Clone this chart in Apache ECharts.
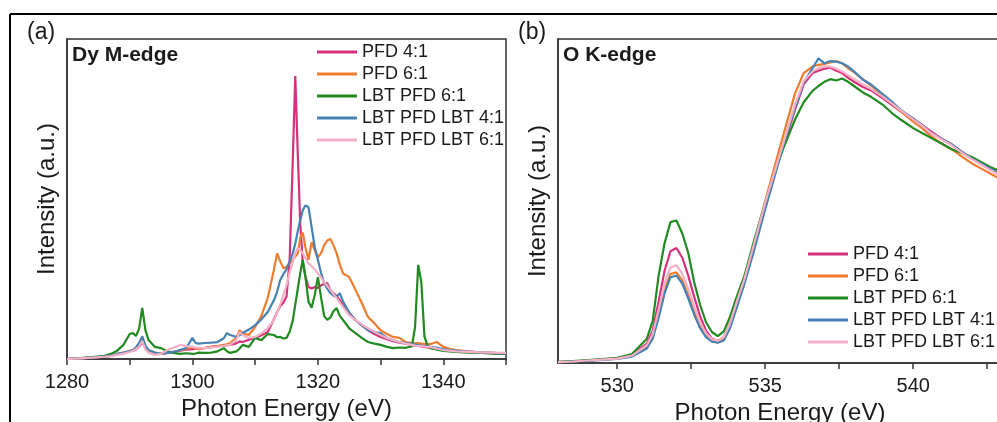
<!DOCTYPE html>
<html>
<head>
<meta charset="utf-8">
<script src="https://cdn.jsdelivr.net/npm/echarts@6/dist/echarts.min.js"></script>
<style>
  html, body { margin: 0; padding: 0; overflow: hidden; background: #ffffff; }
  #chart { width: 1010px; height: 430px; }
</style>
</head>
<body>
<div id="chart"></div>
<script>
// Sample names and line colours (shared by both panels)
const seriesNames = ['PFD 4:1', 'PFD 6:1', 'LBT PFD 6:1', 'LBT PFD LBT 4:1', 'LBT PFD LBT 6:1'];
const seriesColors = ['#d6317a', '#f07c2e', '#218a21', '#4682b4', '#f6b0c6'];

// ---- (a) Dy M-edge ----
const energyA = [
  1280, 1282, 1284, 1286, 1287, 1288, 1289, 1290,
  1290.5, 1291, 1291.5, 1292, 1292.5, 1293,
  1294, 1295, 1296, 1297, 1298, 1299, 1300,
  1300.5, 1301, 1302, 1303, 1304, 1305, 1305.5, 1306, 1307, 1307.5,
  1308, 1309, 1310, 1311, 1312, 1313, 1313.5, 1314, 1314.5, 1315,
  1315.5, 1316, 1316.4, 1316.8, 1317.2, 1317.6, 1318, 1318.5, 1319, 1319.5,
  1320, 1320.5, 1321, 1321.5, 1322, 1322.5, 1323, 1323.5, 1324,
  1325, 1326, 1327, 1328, 1329, 1330, 1331, 1332, 1333, 1334,
  1335, 1335.5, 1336, 1336.5, 1337, 1337.5, 1338,
  1339, 1340, 1341, 1342, 1344, 1346, 1348, 1350
];
const dyPFD41 = [
  0, 0.2, 0.4, 0.7, 1.0, 1.4, 1.8, 2.4,
  2.6, 3.0, 3.8, 5.3, 3.4, 2.2,
  1.8, 1.6, 1.9, 2.2, 2.6, 2.9, 3.1,
  3.2, 3.3, 3.5, 3.8, 4.0, 4.2, 4.3, 4.4, 4.9, 5.5,
  5.3, 6.0, 6.6, 7.4, 8.4, 12.5, 14.6, 16.5, 17.6, 19.5,
  31, 62, 88.4, 64, 42, 30, 26, 22.5, 22, 22.5,
  22.2, 23, 23.5, 23.7, 21.6, 20.5, 19.7, 18.3, 16.9,
  14.4, 12.2, 10.5, 9, 7.8, 6.9, 6.2, 5.6, 5.1, 4.8,
  4.4, 4.2, 4.1, 3.9, 3.8, 3.6, 3.4,
  3.1, 2.8, 2.6, 2.4, 2.2, 2.0, 1.8, 1.6
];
const dyPFD61 = [
  0, 0.2, 0.4, 0.8, 1.1, 1.6, 2.0, 2.5,
  2.8, 3.5, 4.8, 7.0, 4.0, 2.5,
  2.0, 1.6, 1.9, 2.2, 2.8, 3.1, 3.8,
  3.3, 3.1, 3.4, 3.8, 4.0, 4.4, 4.6, 5.0, 6.6, 9.0,
  8.1, 7.5, 10, 13.5, 19, 28, 33, 30.5, 28.4, 28.7,
  30, 31, 32, 33, 38, 39.5, 35, 31, 36.5, 34,
  31.8, 33, 35.5, 37, 37.5, 35.5, 33, 29.5, 26.8,
  25.6, 21.6, 17.5, 13.1, 11.2, 9.0, 7.8, 6.9, 6.6, 5.3,
  5.0, 4.9, 5.0, 4.8, 4.7, 4.6, 4.7,
  5.3, 3.8, 3.2, 2.8, 2.4, 2.1, 1.9, 1.6
];
const dyLBTPFD61 = [
  0, 0.3, 0.6, 1.0, 1.6, 2.6, 4.4, 7.8,
  8.1, 7.2, 9.5, 16, 9, 5.9,
  3.8, 3.4, 2.4, 1.9, 1.6, 1.8, 1.6,
  1.7, 2.0, 1.9, 2.0, 2.4, 3.4, 2.4, 1.9, 2.4, 3.2,
  4.4, 3.8, 6.6, 5.9, 7.8, 7.5, 6.8, 6.9, 6.4, 6.6,
  8.5, 12, 17, 22, 27, 31, 26, 18, 16, 20,
  25.6, 19.4, 13.5, 12.2, 13, 15, 15.9, 13.5, 12.2,
  9.6, 8.1, 6.6, 5.3, 4.8, 4.4, 3.8, 3.4, 3.6, 3.5,
  4.0, 10, 29.4, 24, 7, 4.2, 3.4,
  2.9, 2.5, 2.4, 2.2, 2.0, 1.9, 1.7, 1.6
];
const dyLBTPFDLBT41 = [
  0, 0.2, 0.4, 0.8, 1.1, 1.6, 2.0, 2.5,
  2.8, 3.6, 5.0, 7.0, 4.2, 2.8,
  2.0, 1.6, 1.9, 2.2, 2.8, 3.4, 6.6,
  5.0, 4.8, 5.0, 5.1, 5.3, 6.5, 8.1, 7.5, 6.9, 7.4,
  8.1, 9.2, 10.6, 12.4, 14.7, 18.4, 21, 24.7, 26.5, 28,
  30.5, 33, 36, 40, 43.5, 46.5, 48, 47.5, 41.3, 35,
  31, 27, 23.7, 22, 20.6, 19.8, 19.4, 20.6, 18,
  14.5, 12.2, 10.5, 9, 8.4, 8.1, 6.6, 5.9, 5.3, 5.0,
  4.7, 4.5, 4.4, 4.2, 4.1, 3.9, 3.8,
  3.5, 3.1, 2.8, 2.6, 2.3, 2.1, 1.9, 1.7
];
const dyLBTPFDLBT61 = [
  0, 0.2, 0.4, 0.7, 0.9, 1.3, 1.7, 2.2,
  2.5, 3.0, 3.9, 5.6, 3.0, 2.0,
  1.3, 1.6, 2.8, 3.5, 4.4, 4.0, 3.8,
  3.6, 3.5, 3.4, 3.6, 3.8, 4.1, 4.3, 4.4, 6.0, 8.4,
  7.5, 6.6, 6.9, 8.0, 9.6, 12.2, 14.5, 16.9, 20, 23,
  27, 30.3, 33, 34.7, 34, 33, 31.5, 30, 29, 28,
  26.8, 25.5, 24, 22.8, 21.6, 20.3, 19, 17.6, 16.3,
  13.7, 12.2, 10.8, 9.6, 8.5, 7.5, 6.6, 5.9, 5.3, 4.8,
  4.4, 4.2, 4.1, 4.0, 3.9, 3.8, 3.7,
  3.2, 2.8, 2.6, 2.4, 2.2, 2.1, 2.0, 1.9
];
const ticksA = [1280, 1290, 1300, 1310, 1320, 1330, 1340, 1350];
const labelsA = [1280, 1300, 1320, 1340];

// ---- (b) O K-edge ----
const energyB = [
  528, 528.5, 529, 529.5, 530, 530.5, 531,
  531.2, 531.4, 531.6, 531.8, 532, 532.2, 532.4, 532.6, 532.8, 533,
  533.2, 533.4, 533.6, 533.8, 534, 534.3, 534.6, 535,
  535.3, 535.6, 536, 536.3, 536.6, 536.8, 537, 537.2, 537.4, 537.6,
  537.8, 538, 538.3, 538.6, 539, 539.3, 539.6, 540,
  540.3, 540.6, 541, 541.3, 541.6, 542, 542.3, 542.6, 543
];
const oPFD41 = [
  0.3, 0.5, 0.8, 1.1, 1.5, 2.5, 6,
  10, 19, 28.5, 34.5, 35.5, 32.5, 27, 20.5, 14.5, 10,
  7.6, 6.8, 8, 12, 17.5, 25.5, 35.5, 49,
  58, 66.5, 78, 86, 89.5, 90.2, 90.8, 91.2, 90.2, 89.5,
  88, 86.8, 85.2, 84, 81.5, 79.5, 77.5, 75,
  73.5, 71.5, 69, 67.5, 65.5, 63, 61.5, 60, 58
];
const oPFD61 = [
  0.3, 0.5, 0.8, 1.1, 1.4, 2.2, 5,
  8.3, 15, 22.5, 27.5, 28, 25.5, 21, 16, 11.5, 8.5,
  6.8, 6.4, 7.6, 11.8, 17.5, 26, 36, 50,
  60, 70, 83, 89.5, 91.5, 92, 92.3, 92.8, 93.2, 92.5,
  91, 89.8, 87.5, 85.5, 82, 80, 77.5, 74.5,
  72.5, 70, 67.5, 66, 64, 61.5, 60, 58.5, 56.5
];
const oLBTPFD61 = [
  0.4, 0.6, 0.9, 1.2, 1.6, 2.8, 7.5,
  13, 27, 37, 43.5, 44, 40, 34, 25, 18, 12.6,
  9.6, 8.3, 9.8, 14, 19.5, 27, 37, 49.5,
  58, 66, 75, 80.5, 84, 85.5, 86.8, 87.6, 87.2, 87.8,
  86.8, 85.5, 83.5, 82, 79.5, 77, 75, 72.5,
  71, 69.5, 67.5, 66, 65, 63.5, 62, 60.5, 59
];
const oLBTPFDLBT41 = [
  0.3, 0.5, 0.7, 1.0, 1.3, 2.0, 4.5,
  7.5, 14, 21.5, 26.5, 27, 24.5, 20, 15, 10.8, 8,
  6.6, 6.3, 7, 10.5, 16, 24.5, 34, 47.5,
  57, 67, 78.5, 86.5, 91, 94, 92.5, 93.2, 93, 92.5,
  91.5, 90, 87.5, 85.8, 82.8, 80.5, 78, 75.5,
  73.5, 71, 69, 67.5, 65.5, 63, 61.5, 60, 58
];
const oLBTPFDLBT61 = [
  0.3, 0.5, 0.8, 1.1, 1.4, 2.3, 5.5,
  9, 16.5, 24.5, 29.5, 30.2, 27.5, 23, 17.5, 12.5, 9.2,
  7.4, 6.9, 8, 12, 17.8, 26, 36, 49.5,
  58.5, 67.5, 79.5, 87, 90, 91, 91.6, 91.5, 90.8, 90,
  88.8, 87.7, 86, 84.5, 82, 80, 77.8, 75.2,
  73.3, 71, 68.8, 67.2, 65.2, 62.8, 61.2, 59.6, 57.6
];
const ticksB = [530, 532.5, 535, 537.5, 540, 542.5];
const labelsB = [530, 535, 540];

const panelAValues = [dyPFD41, dyPFD61, dyLBTPFD61, dyLBTPFDLBT41, dyLBTPFDLBT61];
const panelBValues = [oPFD41, oPFD61, oLBTPFD61, oLBTPFDLBT41, oLBTPFDLBT61];

const FONT = '"Liberation Sans", Arial, sans-serif';
const INK = '#1a1a1a';
const FRAME = '#333333';

function pairs(xs, ys) {
  return xs.map((x, i) => [x, ys[i]]);
}

function makeSeries(values, energies, axisIndex) {
  return values.map((vals, i) => ({
    name: seriesNames[i],
    type: 'line',
    xAxisIndex: axisIndex,
    yAxisIndex: axisIndex,
    data: pairs(energies, vals),
    color: seriesColors[i],
    symbol: 'none',
    showSymbol: false,
    smooth: false,
    lineStyle: { width: 2.2, color: seriesColors[i] },
    itemStyle: { color: seriesColors[i] },
    silent: true,
    z: 2 + i
  }));
}

function xAxisFor(gridIndex, min, max, ticks, labels) {
  return {
    type: 'value',
    gridIndex: gridIndex,
    min: min,
    max: max,
    name: 'Photon Energy (eV)',
    nameLocation: 'middle',
    nameGap: 35,
    nameTextStyle: { fontFamily: FONT, fontSize: 24, color: INK },
    axisLine: { show: true, onZero: false, lineStyle: { color: FRAME, width: 1.5 } },
    axisTick: { show: true, inside: false, length: 6, customValues: ticks,
                lineStyle: { color: FRAME, width: 1.5 } },
    axisLabel: { show: true, customValues: labels, margin: 13,
                 formatter: (v) => String(v),
                 fontFamily: FONT, fontSize: 20, color: INK },
    splitLine: { show: false }
  };
}

function yAxisFor(gridIndex, max) {
  return {
    type: 'value',
    gridIndex: gridIndex,
    min: 0,
    max: max,
    name: 'Intensity (a.u.)',
    nameLocation: 'middle',
    nameRotate: 90,
    nameGap: 8,
    nameTextStyle: { fontFamily: FONT, fontSize: 24, color: INK },
    axisLine: { show: true, onZero: false, lineStyle: { color: FRAME, width: 1.5 } },
    axisTick: { show: false },
    axisLabel: { show: false },
    splitLine: { show: false }
  };
}

function legendAt(left, top) {
  return {
    data: seriesNames,
    orient: 'vertical',
    left: left,
    top: top,
    padding: 0,
    itemGap: 2,
    itemWidth: 40,
    itemHeight: 3,
    icon: 'rect',
    selectedMode: false,
    textStyle: { fontFamily: FONT, fontSize: 18, color: INK, lineHeight: 20 }
  };
}

const chart = echarts.init(document.getElementById('chart'), null, { renderer: 'canvas' });

chart.setOption({
  animation: false,
  backgroundColor: '#ffffff',
  grid: [
    { left: 67, top: 39, width: 439, height: 320, show: true,
      borderColor: FRAME, borderWidth: 1.5, backgroundColor: 'transparent' },
    { left: 558, top: 39, width: 444, height: 325, show: true,
      borderColor: FRAME, borderWidth: 1.5, backgroundColor: 'transparent' }
  ],
  xAxis: [
    xAxisFor(0, 1280, 1350, ticksA, labelsA),
    xAxisFor(1, 528, 543, ticksB, labelsB)
  ],
  yAxis: [
    yAxisFor(0, 100),
    yAxisFor(1, 100)
  ],
  legend: [
    legendAt(317, 42),
    legendAt(808, 244)
  ],
  graphic: [
    // outer figure frame
    { type: 'line', shape: { x1: 10, y1: 14, x2: 1010, y2: 14 },
      style: { stroke: '#000000', lineWidth: 2 }, silent: true },
    { type: 'line', shape: { x1: 10, y1: 14, x2: 10, y2: 430 },
      style: { stroke: '#000000', lineWidth: 2 }, silent: true },
    // panel tags and edge labels
    { type: 'text', x: 27, y: 33, silent: true,
      style: { text: '(a)', font: '23px ' + FONT, fill: INK, verticalAlign: 'middle' } },
    { type: 'text', x: 518, y: 33, silent: true,
      style: { text: '(b)', font: '23px ' + FONT, fill: INK, verticalAlign: 'middle' } },
    { type: 'text', x: 72, y: 55, silent: true,
      style: { text: 'Dy M-edge', font: 'bold 21px ' + FONT, fill: INK, verticalAlign: 'middle' } },
    { type: 'text', x: 563, y: 55, silent: true,
      style: { text: 'O K-edge', font: 'bold 21px ' + FONT, fill: INK, verticalAlign: 'middle' } }
  ],
  series: [].concat(
    makeSeries(panelAValues, energyA, 0),
    makeSeries(panelBValues, energyB, 1)
  )
});
</script>
</body>
</html>
